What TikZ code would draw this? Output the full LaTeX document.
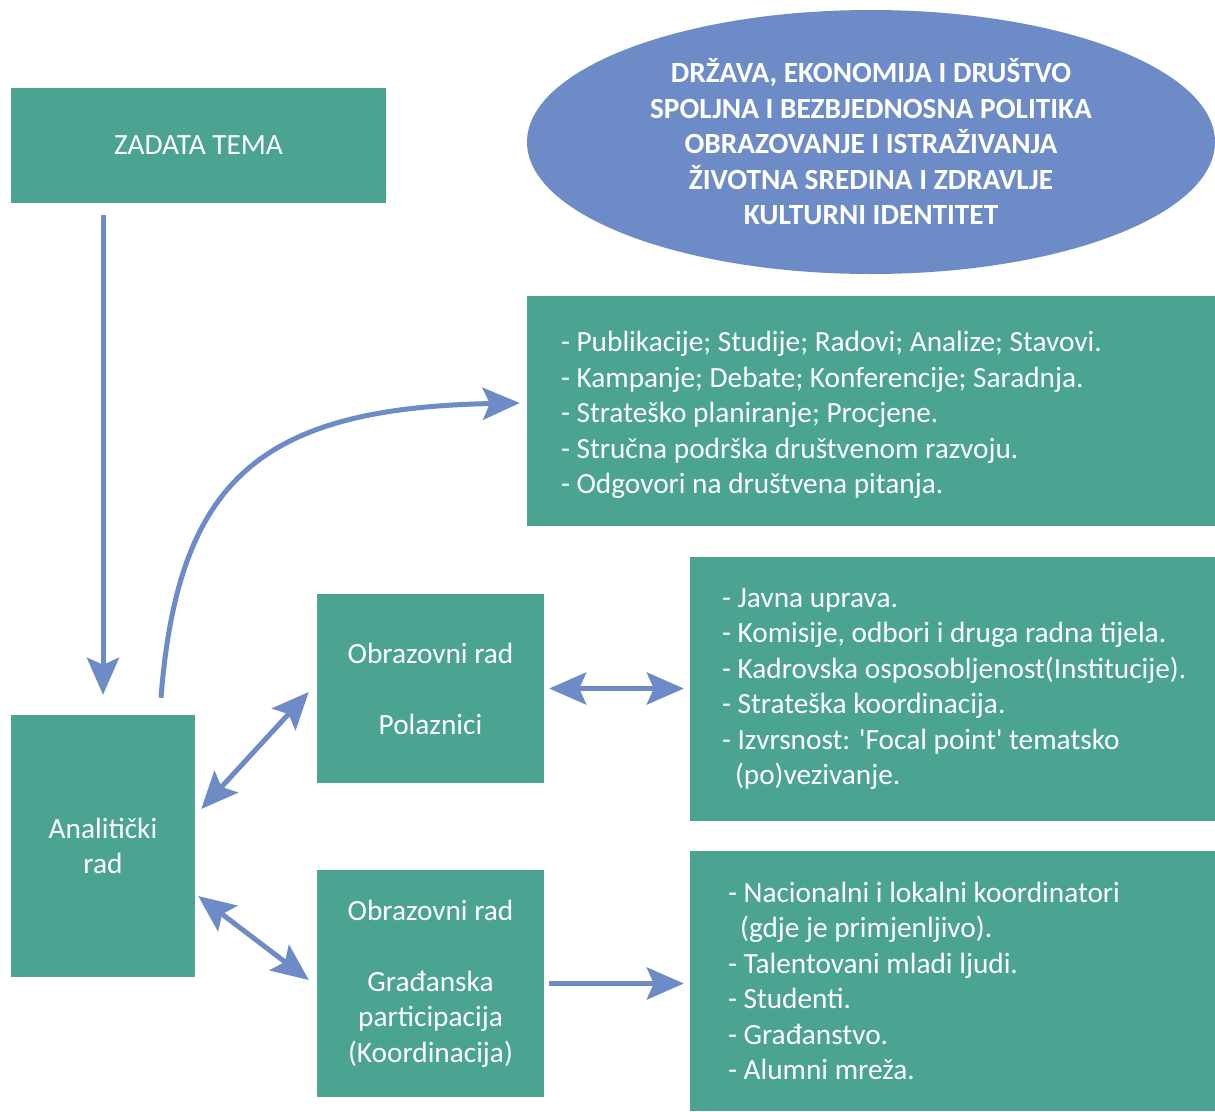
\documentclass[tikz,border=0pt]{standalone}
\usepackage{fontspec}
\setmainfont{Carlito}
\usetikzlibrary{arrows.meta,calc,shapes.geometric}
\definecolor{boxteal}{RGB}{75,163,145}
\definecolor{linkblue}{RGB}{109,139,198}

\tikzset{
	bigtip/.tip={Stealth[length=37pt, width=32pt, inset=7pt]},
	box/.style={fill=boxteal, text=white, inner sep=0pt, align=center, font=\fontsize{29.3}{35.5}\selectfont},
	listtext/.style={text=white, inner sep=0pt, align=left, anchor=west, font=\fontsize{29.3}{35.5}\selectfont},
	link/.style={draw=linkblue, line width=5pt, -bigtip},
	both/.style={draw=linkblue, line width=5pt, bigtip-bigtip}
}

\begin{document}
\begin{tikzpicture}[x=1pt, y=-1pt]
			%%%%% START %%%%%
			\useasboundingbox (0, 0) rectangle (1215, 1111);
			
			\node[box, minimum width=375, minimum height=115] (tema) at (198.5, 145.5) {ZADATA TEMA};
			
			\node[ellipse, fill=linkblue, text=white, inner sep=0pt, align=center, minimum width=688, minimum height=264,
				font=\bfseries\fontsize{29.3}{35.5}\selectfont] (oblasti) at (871, 142)
				{DRŽAVA, EKONOMIJA I DRUŠTVO\\SPOLJNA I BEZBJEDNOSNA POLITIKA\\OBRAZOVANJE I ISTRAŽIVANJA\\ŽIVOTNA SREDINA I ZDRAVLJE\\KULTURNI IDENTITET};
			
			\node[box, minimum width=688, minimum height=230] (produkti) at (871, 411) {};
			\node[listtext] (produktiTxt) at ([xshift=34pt, yshift=-4pt]produkti.west)
				{- Publikacije; Studije; Radovi; Analize; Stavovi.\\- Kampanje; Debate; Konferencije; Saradnja.\\- Strateško planiranje; Procjene.\\- Stručna podrška društvenom razvoju.\\- Odgovori na društvena pitanja.};
			
			\node[box, minimum width=184, minimum height=262] (analiticki) at (103, 846) {Analitički\\rad};
			
			\node[box, minimum width=227, minimum height=189] (polaznici) at (430.5, 688.5) {Obrazovni rad\\[35.5pt]Polaznici};
			\node[box, minimum width=227, minimum height=227] (gradjani) at (430.5, 983.5) {Obrazovni rad\\[35.5pt]Građanska\\participacija\\(Koordinacija)};
			
			\node[box, minimum width=525, minimum height=264] (institucije) at (952.5, 689) {};
			\node[listtext] (institucijeTxt) at ([xshift=32pt]institucije.west)
				{- Javna uprava.\\- Komisije, odbori i druga radna tijela.\\- Kadrovska osposobljenost(Institucije).\\- Strateška koordinacija.\\- Izvrsnost: \textquotesingle Focal point\textquotesingle\ tematsko\\\hspace*{13pt}(po)vezivanje.};
			
			\node[box, minimum width=525, minimum height=260] (akteri) at (952.5, 981) {};
			\node[listtext] (akteriTxt) at ([xshift=38pt]akteri.west)
				{- Nacionalni i lokalni koordinatori\\\hspace*{12pt}(gdje je primjenljivo).\\- Talentovani mladi ljudi.\\- Studenti.\\- Građanstvo.\\- Alumni mreža.};
			
			% arrows
			\draw[link, shorten <=12pt, shorten >=20pt] (tema.south -| analiticki.north) -- (analiticki.north);
			\draw[link] ($(analiticki.north)+(58, -17)$) .. controls (178, 480) and (260, 408) .. ($(produkti.west)+(-7, -8)$);
			\draw[both] ($(analiticki.east)+(6, -37)$) -- ($(polaznici.west)+(-8, 3.5)$);
			\draw[both] ($(analiticki.east)+(3, 50)$) -- ($(gradjani.west)+(-8, -3.5)$);
			\draw[both, shorten <=5pt, shorten >=6pt] (polaznici.east) -- (polaznici.east -| institucije.west);
			\draw[link, shorten <=5pt, shorten >=6pt] (gradjani.east) -- (gradjani.east -| akteri.west);
			
			%%%%% END %%%%%
		\end{tikzpicture}
\end{document}
